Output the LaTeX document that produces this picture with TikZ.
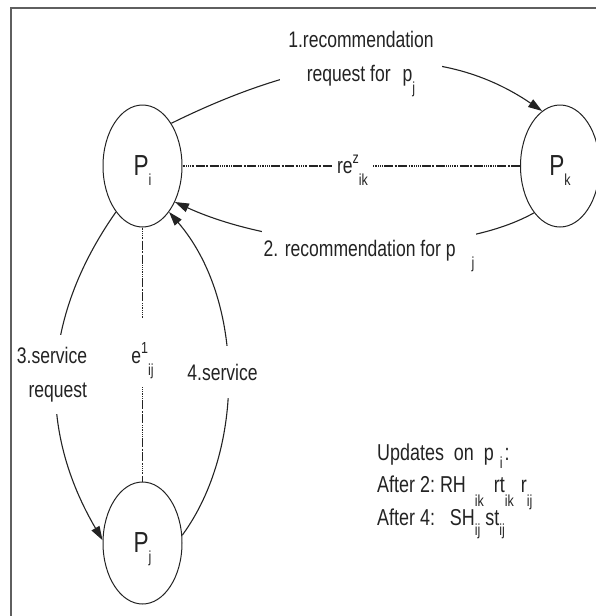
\documentclass[tikz,border=0pt]{standalone}
\usepackage{fontspec}
\setmainfont{Liberation Sans}[FakeStretch=0.78]
\usetikzlibrary{shapes.geometric,arrows.meta}
\definecolor{ink}{RGB}{35,35,35}
\definecolor{framec}{RGB}{95,95,95}
\newcommand\dn[2]{\raisebox{-#1}{\fontsize{16}{16}\selectfont #2}}
\newcommand\upr[2]{\raisebox{#1}{\fontsize{16}{16}\selectfont #2}}
\begin{document}
\begin{tikzpicture}[x=1pt,y=-1pt,
  pnode/.style={ellipse, draw=ink, line width=1pt, minimum width=79pt,
    minimum height=122pt, inner sep=0pt, font=\fontsize{29}{29}\selectfont,
    text=ink, text depth=0pt},
  lab/.style={font=\fontsize{22.5}{34}\selectfont, text=ink, fill=white, inner sep=2pt},
  txt/.style={font=\fontsize{23}{32}\selectfont, text=ink, inner sep=0pt, anchor=base west},
  conn/.style={draw=ink, line width=1.1pt},
  arr/.style={conn, -{Triangle[length=14pt,width=9pt]}},
  mixdash/.style={dash pattern=on 0.9pt off 0.9pt on 0.9pt off 0.9pt on 0.9pt off 0.9pt
    on 0.9pt off 0.9pt on 0.9pt off 0.9pt on 0.9pt off 0.9pt on 0.9pt off 1.5pt
    on 9pt off 1.5pt on 2pt off 1.5pt on 9pt off 1.5pt}]
\useasboundingbox (0,0) rectangle (596,616);
\draw[framec, line width=2.2pt] (11,8) rectangle (700,700);

\node[pnode] (Pi) at (142.5,166) {P\dn{10pt}{i}};
\node[pnode] (Pk) at (560,166) {P\dn{10pt}{k}};
\node[pnode] (Pj) at (142.5,543) {P\dn{10pt}{j}};

% dotted relations
\draw[conn, mixdash] (Pi.east) -- (Pk.west);
\node[lab, anchor=base, inner xsep=5pt, inner ysep=1pt] (re) at (352.5,173)
  {re\upr{10pt}{z}\dn{12pt}{ik}};
\node[font=\fontsize{22.5}{34}\selectfont, text=ink, inner sep=0pt,
  text height=45pt, text depth=24pt] (e1) at (142.5,352.5)
  {e\upr{10pt}{1}\dn{12pt}{ij}};
\draw[conn, mixdash] (Pi.south) -- (e1.north);
\draw[conn, mixdash] (e1.south) -- (Pj.north);

% arrows
\draw[arr] (Pi.56) .. controls (330,45) and (445,45) .. (Pk.108);
\draw[arr] (Pk.-119) .. controls (450,260) and (280,250) .. (Pi.-48);
\draw[arr] (Pi.-120) .. controls (40,320) and (38,430) .. (Pj.176);
\draw[arr] (Pj.11) .. controls (245,450) and (245,300) .. (Pi.-60);

% arrow labels
\node[lab, align=center, inner xsep=8pt] (t1) at (361,64.5)
  {1.recommendation\\request for\hspace{12pt}p\dn{12pt}{j}};
\node[lab, inner xsep=2pt, inner ysep=14pt] (t2) at (369,256)
  {2. recommendation for p\hspace{16pt}\dn{12pt}{j}};
\node[lab, align=right, inner xsep=2pt, inner ysep=12pt] (t3) at (52,374.3)
  {3.service\\request};
\node[lab, anchor=base, inner xsep=2pt, inner ysep=17.5pt] (t4) at (222.5,380)
  {4.service};

% updates
\node[txt] (u1) at (377,460) {Updates\ \ on\ \ p\hspace{6pt}\dn{8pt}{i}\hspace{2pt}:};
\node[txt] (u2) at (377,492) {After 2:\ RH\hspace{9pt}\dn{14pt}{ik}\hspace{10pt}rt\dn{14pt}{ik}\hspace{7pt}r\dn{14pt}{ij}};
\node[txt] (u3) at (377,525) {After 4:\ \ \ SH\dn{10pt}{ij}\ st\dn{10pt}{ij}};
\end{tikzpicture}
\end{document}
